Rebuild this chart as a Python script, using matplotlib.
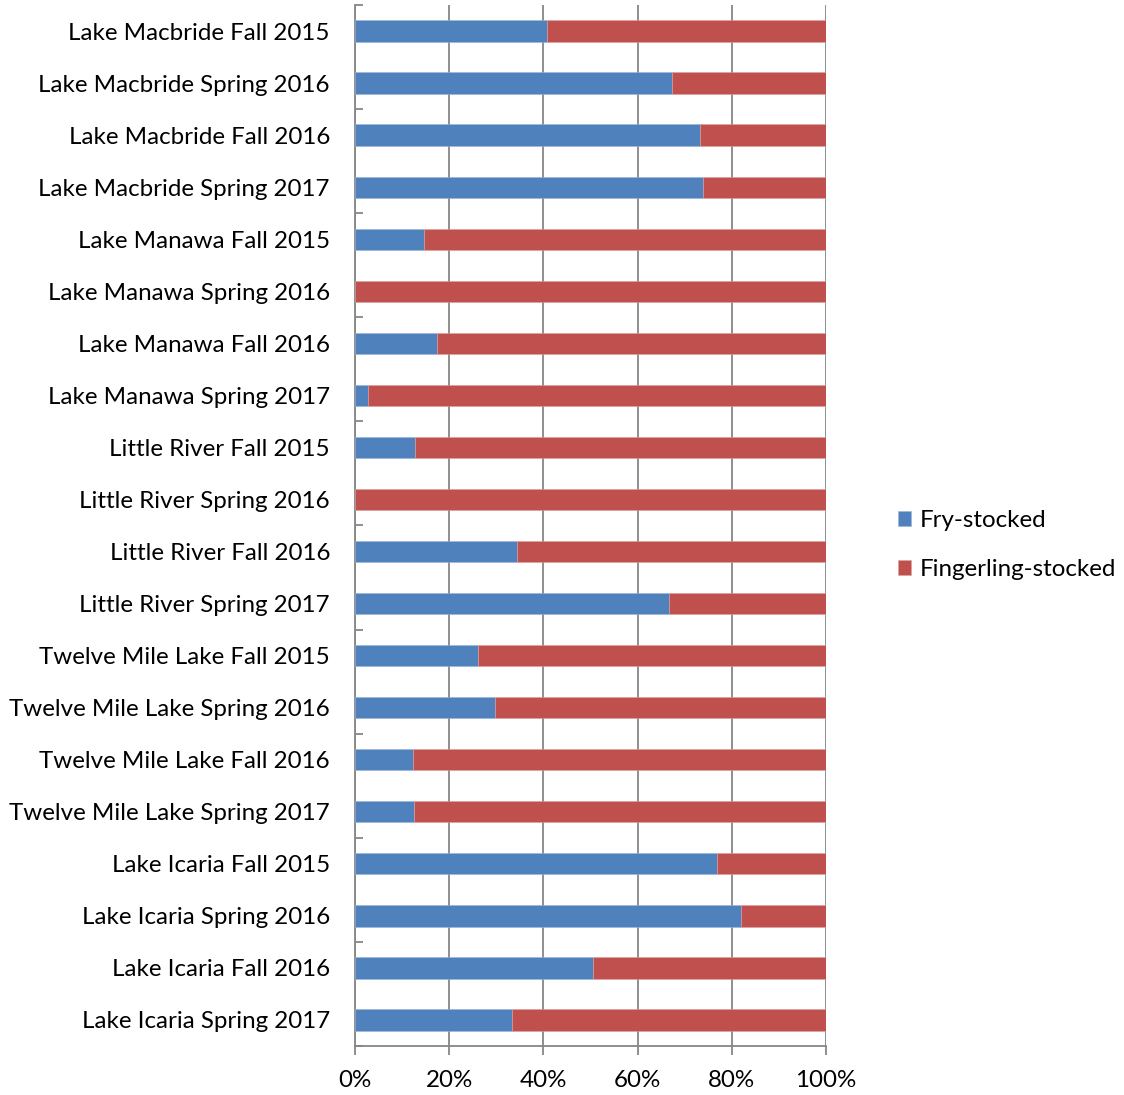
import matplotlib.pyplot as plt
import matplotlib.ticker as mticker
import numpy as np

plt.rcParams['font.family'] = ['Lato', 'DejaVu Sans']

sites = ['Lake Macbride Fall 2015', 'Lake Macbride Spring 2016',
         'Lake Macbride Fall 2016', 'Lake Macbride Spring 2017',
         'Lake Manawa Fall 2015', 'Lake Manawa Spring 2016',
         'Lake Manawa Fall 2016', 'Lake Manawa Spring 2017',
         'Little River Fall 2015', 'Little River Spring 2016',
         'Little River Fall 2016', 'Little River Spring 2017',
         'Twelve Mile Lake Fall 2015', 'Twelve Mile Lake Spring 2016',
         'Twelve Mile Lake Fall 2016', 'Twelve Mile Lake Spring 2017',
         'Lake Icaria Fall 2015', 'Lake Icaria Spring 2016',
         'Lake Icaria Fall 2016', 'Lake Icaria Spring 2017']

# percent of fish from each stocking type
fry = [40.8, 67.3, 73.3, 73.9,
       14.6, 0.0, 17.4, 2.8,
       12.7, 0.0, 34.4, 66.7,
       26.1, 29.7, 12.3, 12.5,
       76.9, 82.0, 50.5, 33.3]
fingerling = [100 - v for v in fry]

blue = '#4F81BD'
red = '#C0504D'
grey = '#868686'
fs = 17.4

fig = plt.figure(figsize=(11.24, 10.95), dpi=100)
ax = fig.add_axes([355 / 1124, 1 - 1046 / 1095, 471 / 1124, 1041 / 1095])

y = np.arange(len(sites))
ax.barh(y, fry, height=0.41, color=blue, label='Fry-stocked',
        edgecolor='#9DB6D9', linewidth=0.4, zorder=3)
ax.barh(y, fingerling, left=fry, height=0.41, color=red,
        label='Fingerling-stocked', edgecolor='#DBA09F', linewidth=0.4, zorder=3)

ax.set_xlim(0, 100)
ax.set_ylim(len(sites) - 0.5, -0.5)

ax.set_xticks(np.arange(0, 101, 20))
ax.xaxis.set_major_formatter(mticker.FuncFormatter(lambda v, p: '%d%%' % v))
ax.tick_params(axis='x', direction='out', length=6.5, width=1.3, color=grey,
               labelsize=fs, pad=11)
ax.grid(axis='x', color=grey, linewidth=1.3, zorder=0)

ax.set_yticks(y)
ax.set_yticklabels(sites)
ax.tick_params(axis='y', length=0, labelsize=fs, pad=18)
ax.set_yticks(np.arange(-0.5, len(sites), 2), minor=True)
ax.tick_params(axis='y', which='minor', direction='in', length=6, width=1.3, color=grey)

for s in ['top', 'right']:
    ax.spines[s].set_visible(False)
for s in ['left', 'bottom']:
    ax.spines[s].set_color(grey)
    ax.spines[s].set_linewidth(1.3)

fig.legend(loc='center left', bbox_to_anchor=(898 / 1124, 1 - 545 / 1095),
           frameon=False, fontsize=fs, handlelength=0.55, handleheight=0.55,
           handletextpad=0.37, labelspacing=1.15, borderpad=0, borderaxespad=0)

fig.savefig('out.png', dpi=100)
